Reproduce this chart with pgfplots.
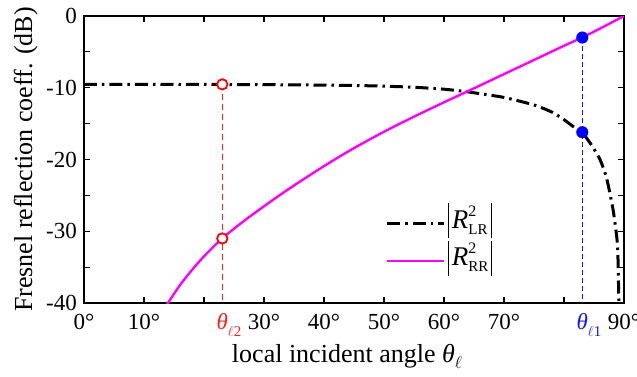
\documentclass[border=0pt]{standalone}
\usepackage{fontspec}
\setmainfont{Liberation Serif}
\usepackage{pgfplots}
\pgfplotsset{compat=1.18}
\definecolor{mag}{RGB}{255,0,255}
\definecolor{myred}{RGB}{255,30,30}
\definecolor{myblue}{RGB}{20,20,255}
\newcommand{\absR}[1]{{\fontsize{27}{30}\selectfont\vrule height 25pt depth 10pt width 1pt\hspace{3pt}\textit{R}\makebox[0pt][l]{\raisebox{12pt}{\fontsize{16}{16}\selectfont 2}}\raisebox{-6pt}{\fontsize{15}{15}\selectfont #1}\hspace{3pt}\vrule height 25pt depth 10pt width 1pt}}
\newcommand{\thsub}[1]{\textit{θ}\rlap{\raisebox{-7pt}{\fontsize{15}{15}\selectfont$\ell$#1}}}
\begin{document}
\fontsize{23}{27}\selectfont
\begin{tikzpicture}
\path[use as bounding box] (-84pt,-73pt) rectangle (553pt,303pt);
\begin{axis}[
  at={(0pt,0pt)}, anchor=south west,
  scale only axis, width=540pt, height=287pt,
  xmin=0, xmax=90, ymin=-40, ymax=0,
  axis line style={line width=1.4pt},
  tick style={line width=1.2pt, black},
  major tick length=6pt, minor tick length=6pt,
  tick align=inside,
  xtick={0,10,...,90},
  xticklabels={0°,10°,,30°,40°,50°,60°,70°,,90°},
  ytick={-40,-30,-20,-10,0},
  yticklabels={-40,-30,-20,-10,0},
  minor ytick={-35,-25,-15,-5},
  tick label style={font=\fontsize{23}{27}\selectfont},
  xticklabel style={inner sep=0pt, text height=16pt, text depth=5pt, yshift=-10pt},
  yticklabel style={inner sep=0pt, xshift=-7pt},
  extra x ticks={23.05,83.05},
  extra x tick labels={\color{myred}\thsub{2},\color{myblue}\thsub{1}},
  extra x tick style={major tick length=0pt},
  xlabel={local incident angle \textit{θ}\raisebox{-6pt}{\fontsize{16}{16}\selectfont$\ell$}},
  ylabel={Fresnel reflection coeff. (dB)},
  every axis x label/.style={at={(axis description cs:0.487,-0.2056)}, anchor=base, font=\fontsize{26}{30}\selectfont},
  every axis y label/.style={at={(axis description cs:-0.108,0.5)}, rotate=90, anchor=center, font=\fontsize{26}{30}\selectfont},
  legend style={draw=none, fill=none, at={(axis cs:50.33,-25.85)}, anchor=north west,
    inner sep=0pt, outer sep=0pt, row sep=5pt,
    /tikz/every even column/.append style={column sep=6pt}},
  legend cell align=left,
  legend image code/.code={\draw[#1] (0pt,-6pt) -- (57pt,-6pt);},
  clip=true,
]
\addplot[black, line width=3pt, dash pattern=on 13pt off 5pt on 2.5pt off 5pt, smooth, tension=0.4] coordinates {
(0,-9.53) (10,-9.53) (20,-9.54) (30,-9.57) (40,-9.63) (45,-9.68) (50,-9.78) (55,-9.93)
(60,-10.2) (63.8,-10.55) (65,-10.7) (70,-11.35) (75,-12.4) (78,-13.4) (80,-14.45)
(82,-15.7) (83,-16.2) (84.6,-18.0) (86,-20.0) (87.1,-22.6) (88.2,-27.1) (88.9,-31.7)
(89.05,-36.0) (89.15,-40.0) (89.2,-42.0)
};
\addlegendentry{\absR{LR}}
\addplot[mag, line width=2.4pt, smooth] coordinates {
(13.0,-41.4) (14,-40) (16,-37.5) (18,-35.4) (20,-33.5) (23.05,-31.0) (27,-28.35) (33,-24.75)
(39,-21.45) (44.3,-18.75) (50,-16.13) (55,-14.03) (60,-12.03) (63.8,-10.55) (70,-8.1)
(75,-6.13) (80,-4.15) (83,-3.0) (86,-1.75) (90,0)
};
\addlegendentry{\absR{RR}}
\addplot[myred, line width=1.3pt, dash pattern=on 6pt off 4pt, forget plot] coordinates {(23.05,-9.53) (23.05,-40)};
\addplot[myblue, line width=1.1pt, dash pattern=on 5pt off 3pt, forget plot] coordinates {(83.05,-3.0) (83.05,-40)};
\addplot[only marks, mark=*, mark size=5.2pt, mark options={draw=red, fill=white, line width=1.8pt}, forget plot] coordinates {(23.05,-9.53) (23.05,-31.0)};
\addplot[only marks, mark=*, mark size=5.8pt, mark options={draw=blue, fill=blue}, forget plot] coordinates {(83.05,-3.0) (83.05,-16.2)};
\end{axis}
\end{tikzpicture}
\end{document}
